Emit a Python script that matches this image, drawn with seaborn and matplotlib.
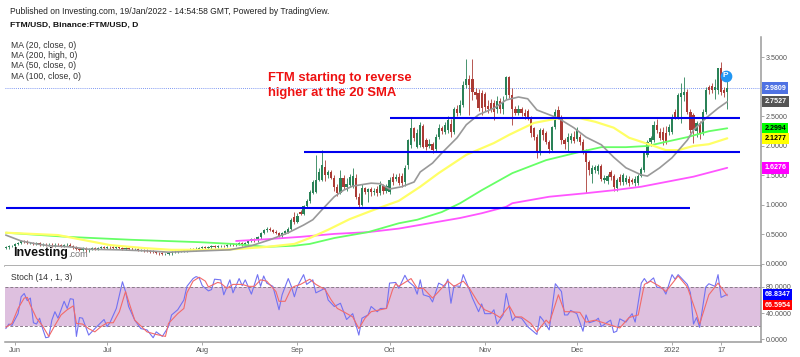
import numpy as np
import seaborn as sns
import matplotlib.pyplot as plt

# daily candles, one entry per day from 29 May 2021 to 19 Jan 2022
opens = [
    .27,.28,.30,.31,.34,.36,.39,.38,.36,.36, .34,.35,.33,.33,.32,.33,.31,.33,.32,.30,
    .32,.33,.31,.28,.25,.24,.26,.23,.25,.27, .26,.27,.28,.27,.29,.28,.27,.28,.27,.26,
    .27,.26,.25,.25,.24,.24,.23,.22,.21,.20, .19,.18,.17,.17,.18,.20,.21,.22,.22,.23,
    .24,.25,.24,.26,.27,.28,.27,.28,.30,.29, .31,.31,.30,.32,.33,.32,.34,.35,.33,.36,
    .39,.42,.40,.45,.52,.57,.60,.58,.55,.52,
    .47,.53,.55,.59,.80,.71,.88,.85,.98,1.07,
    1.20,1.22,1.42,1.42,1.64,1.50,1.56,1.46,1.31,1.20,
    1.46,1.31,1.34,1.31,1.46,1.14,1.00,1.29,1.22,1.27,
    1.22,1.27,1.20,1.32,1.24,1.22,1.47,1.44,1.47,1.49,
    1.39,1.68,2.02,2.31,1.98,2.02,2.34,2.10,2.00,2.03,
    1.95,2.15,2.31,2.24,2.27,2.38,2.24,2.63,2.56,2.70,
    3.03,3.14,3.14,2.92,2.90,2.90,2.88,2.68,2.72,2.72,
    2.62,2.76,2.62,2.86,3.17,2.86,2.63,2.56,2.62,2.56,
    2.59,2.47,2.31,2.15,1.88,2.27,2.22,2.07,1.93,2.32,
    2.61,2.47,2.10,2.07,2.10,2.15,2.12,2.15,2.07,1.90,
    1.73,1.53,1.59,1.58,1.66,1.42,1.41,1.56,1.49,1.29,
    1.47,1.39,1.39,1.44,1.42,1.37,1.37,1.49,1.59,1.85,
    2.07,2.10,2.36,2.24,2.24,2.22,2.24,2.24,2.58,2.49,
    2.83,2.86,2.92,2.58,2.53,2.25,2.39,2.22,2.58,3.00,
    3.02,2.95,2.95,3.32,2.95,2.92,
]
highs = [
    .30,.32,.33,.36,.38,.41,.41,.40,.38,.38, .37,.37,.35,.35,.35,.35,.35,.35,.34,.34,
    .35,.35,.33,.30,.27,.28,.28,.27,.29,.29, .29,.30,.30,.31,.31,.30,.30,.30,.29,.29,
    .29,.28,.27,.27,.26,.26,.25,.24,.23,.22, .21,.20,.19,.20,.22,.23,.24,.24,.25,.26,
    .27,.27,.28,.29,.30,.30,.30,.32,.32,.33, .33,.33,.34,.35,.35,.36,.37,.37,.38,.41,
    .44,.44,.47,.55,.60,.63,.62,.60,.57,.54,
    .55,.58,.62,.78,.88,.86,.92,1.00,1.10,1.26,
    1.42,1.85,1.62,1.93,1.77,1.60,1.60,1.50,1.36,1.60,
    1.50,1.45,1.52,1.62,1.53,1.20,1.35,1.31,1.29,1.30,
    1.29,1.32,1.40,1.36,1.36,1.48,1.54,1.52,1.54,1.55,
    1.68,2.12,2.47,2.32,2.28,2.40,2.37,2.14,2.12,2.06,
    2.20,2.37,2.34,2.40,2.50,2.46,2.66,2.70,2.78,3.10,
    3.48,3.20,3.48,2.98,2.96,2.95,2.92,2.78,2.80,2.78,
    2.85,2.82,2.85,3.18,3.18,2.98,2.68,2.70,2.66,2.62,
    2.62,2.50,2.33,2.20,2.30,2.30,2.26,2.10,2.34,2.62,
    2.68,2.52,2.14,2.22,2.22,2.25,2.32,2.20,2.12,1.95,
    1.77,1.68,1.68,1.70,1.70,1.50,1.52,1.60,1.53,1.46,
    1.52,1.54,1.50,1.49,1.46,1.49,1.53,1.64,1.92,2.10,
    2.17,2.42,2.46,2.30,2.32,2.34,2.38,2.55,2.62,2.90,
    3.07,3.17,2.97,2.62,2.56,2.42,2.42,2.62,3.00,3.03,
    3.06,3.14,3.33,3.43,3.00,3.15,
]
lows = [
    .25,.26,.28,.29,.32,.34,.36,.34,.34,.32, .32,.31,.31,.30,.30,.29,.29,.30,.28,.28,
    .30,.29,.26,.23,.22,.22,.21,.21,.23,.24, .24,.25,.25,.25,.26,.25,.25,.25,.24,.24,
    .24,.23,.23,.22,.22,.21,.20,.19,.18,.17, .16,.15,.15,.15,.16,.18,.19,.20,.20,.21,
    .22,.22,.22,.24,.25,.25,.25,.26,.27,.27, .29,.28,.28,.30,.30,.30,.32,.31,.31,.34,
    .37,.38,.38,.43,.50,.55,.56,.53,.50,.46,
    .44,.50,.52,.57,.68,.69,.83,.83,.95,1.04,
    1.18,1.20,1.40,1.40,1.41,1.46,1.44,1.24,1.15,1.18,
    1.27,1.23,1.30,1.28,1.10,.97,.98,1.18,1.05,1.15,
    1.17,1.15,1.17,1.18,1.20,1.18,1.34,1.40,1.34,1.30,
    1.33,1.61,1.97,2.08,1.96,1.98,1.96,1.94,1.96,1.88,
    1.92,2.12,2.20,2.20,2.22,2.16,2.20,2.50,2.52,2.66,
    2.99,2.52,2.78,2.80,2.60,2.52,2.60,2.56,2.58,2.44,
    2.56,2.56,2.55,2.80,2.82,2.36,2.52,2.52,2.50,2.46,
    2.44,2.15,2.10,1.80,1.85,2.10,2.03,1.88,1.90,2.28,
    2.45,2.03,1.95,1.90,2.05,2.05,2.08,2.02,1.86,1.20,
    1.50,1.37,1.55,1.53,1.40,1.38,1.36,1.43,1.24,1.24,
    1.34,1.34,1.36,1.33,1.35,1.33,1.34,1.47,1.56,1.82,
    2.00,2.06,2.22,2.10,2.02,2.04,2.18,2.20,2.46,2.45,
    2.39,2.76,2.55,2.22,2.05,2.15,2.12,2.18,2.54,2.88,
    2.90,2.80,2.88,2.87,2.83,2.63,
]
closes = [
    .28,.30,.31,.34,.36,.39,.38,.36,.36,.34, .35,.33,.33,.32,.33,.31,.33,.32,.30,.32,
    .33,.31,.28,.25,.24,.26,.23,.25,.27,.26, .27,.28,.27,.29,.28,.27,.28,.27,.26,.27,
    .26,.25,.25,.24,.24,.23,.22,.21,.20,.19, .18,.17,.17,.18,.20,.21,.22,.22,.23,.24,
    .25,.24,.26,.27,.28,.27,.28,.30,.29,.31, .31,.30,.32,.33,.32,.34,.35,.33,.36,.39,
    .42,.40,.45,.52,.57,.60,.58,.55,.52,.48,
    .53,.56,.60,.75,.71,.81,.85,.98,1.07,1.22,
    1.39,1.42,1.56,1.68,1.51,1.56,1.46,1.31,1.20,1.46,
    1.31,1.36,1.47,1.49,1.14,1.00,1.29,1.22,1.27,1.22,
    1.24,1.20,1.34,1.24,1.32,1.42,1.39,1.47,1.37,1.37,
    1.63,2.10,2.31,2.14,2.22,2.36,1.98,1.98,2.03,1.93,
    2.15,2.31,2.25,2.36,2.44,2.24,2.63,2.56,2.70,3.03,
    3.14,3.03,2.92,2.86,2.64,2.64,2.66,2.62,2.62,2.58,
    2.76,2.62,2.74,3.17,2.86,2.63,2.56,2.62,2.56,2.50,
    2.47,2.22,2.15,1.88,2.27,2.19,2.07,1.95,2.32,2.58,
    2.49,2.10,2.03,2.15,2.17,2.09,2.29,2.07,1.90,1.73,
    1.59,1.63,1.64,1.66,1.44,1.46,1.49,1.47,1.31,1.42,
    1.39,1.51,1.46,1.37,1.39,1.44,1.49,1.61,1.88,2.07,
    2.14,2.36,2.27,2.14,2.10,2.07,2.32,2.49,2.49,2.86,
    2.90,2.92,2.58,2.27,2.27,2.39,2.22,2.58,2.95,2.95,
    2.95,3.00,3.32,2.92,2.90,2.98,
]

# moving averages, read at (candle number, price)
ma20_day = [0,5,10,14,21,27,37,47,53,63,73,80,86,92,97,100,103,107,110,113,119,122,125,129,133,135,
            139,142,147,150,154,159,163,167,170,173,180,185,189,194,198,202,207,209,213,217,222,224,228,232,235]
ma20_val = [.49,.39,.34,.31,.29,.25,.24,.22,.20,.22,.24,.31,.41,.53,.66,.75,.92,1.14,1.25,1.32,1.37,1.36,1.27,1.31,1.39,1.56,
            1.71,1.88,2.14,2.36,2.53,2.64,2.78,2.83,2.80,2.61,2.47,2.31,2.15,2.02,1.81,1.63,1.51,1.49,1.63,1.80,2.10,2.27,2.47,2.64,2.75]
ma100_day = [0,17,25,34,45,54,63,74,85,94,99,105,112,120,128,135,141,150,159,164,172,180,187,192,198,203,210,215,219,224,229,235]
ma100_val = [.53,.49,.41,.32,.27,.24,.24,.25,.29,.34,.44,.58,.76,.92,1.07,1.31,1.54,1.85,2.05,2.19,2.39,2.47,2.47,2.41,2.31,2.14,2.02,1.93,1.93,2.00,2.03,2.13]
ma50_day = [0,20,41,63,74,85,94,99,107,118,128,134,142,148,155,165,176,187,194,202,209,215,222,229,235]
ma50_val = [.53,.46,.41,.37,.34,.29,.31,.34,.44,.54,.69,.75,.88,1.03,1.25,1.54,1.76,1.90,1.98,1.98,2.00,2.07,2.15,2.25,2.30]
ma200_day = [75,85,96,107,118,128,138,148,155,163,165,177,189,198,207,215,224,235]
ma200_val = [.39,.42,.46,.51,.54,.60,.69,.78,.86,.97,1.03,1.14,1.20,1.25,1.31,1.39,1.48,1.63]

# support and resistance levels: price, first candle, last candle
level_price = [2.47, 1.89, .95]
level_start = [125, 97, 0]
level_end = [239, 239, 223]

# stochastic
k_day = [0,1,2,4,5,6,7,8,9,10,11,12,13,14,15,16,17,19,20,21,22,23,24,25,27,29,32,33,34,36,38,39,40,42,44,46,48,49,51,53,54,56,58,59,
         61,62,63,64,66,67,68,70,71,73,74,76,77,78,80,82,83,84,85,87,88,89,90,92,93,94,95,97,98,100,101,104,105,107,109,111,113,115,116,118,119,121,122,124,125,127,
         128,130,131,133,134,135,136,138,139,141,143,144,145,146,148,149,151,152,154,155,156,158,159,160,162,163,165,166,168,170,173,174,175,177,179,181,182,183,184,186,188,189,190,
         192,193,194,196,197,198,199,200,202,204,205,207,208,209,211,212,214,215,217,218,219,222,223,224,225,226,228,229,231,232,233,235]
k_val = [16,23,21,39,65,70,59,63,25,23,32,16,2,3,29,42,32,58,47,62,61,4,33,32,6,16,30,19,26,47,88,73,50,29,16,14,2,11,4,19,37,45,60,81,
         93,96,94,82,74,76,92,91,68,91,71,93,82,91,69,99,81,97,86,81,63,45,68,93,81,65,81,99,84,91,71,78,60,50,55,30,39,6,32,37,50,42,47,47,86,87,
         78,98,89,81,69,91,68,65,57,86,81,92,55,82,81,99,76,63,42,54,39,39,45,23,37,70,28,34,32,19,7,35,29,14,85,73,37,37,44,39,12,37,25,
         28,32,19,26,29,10,12,31,26,39,26,86,93,86,94,80,78,69,99,92,99,84,71,23,33,18,80,85,81,99,64,68.8]
d_day = [0,2,4,6,7,8,10,12,14,16,18,20,22,23,25,27,29,31,33,35,37,39,40,42,44,46,49,52,53,56,58,59,61,63,65,66,69,70,72,74,77,79,81,83,85,88,89,91,93,94,96,99,101,104,106,108,110,113,115,117,119,122,124,126,127,
         128,132,134,136,139,141,144,146,149,151,154,156,159,161,164,166,168,171,173,176,177,180,182,184,187,189,192,196,200,203,206,208,210,213,215,219,222,225,226,229,232,235]
d_val = [18,24,47,63,64,52,32,20,4,21,37,45,51,24,23,16,11,19,25,25,42,73,58,29,20,11,7,4,24,39,47,71,89,95,89,80,87,86,78,84,84,81,81,91,89,73,58,58,78,81,84,92,84,76,60,47,42,34,16,32,42,45,47,76,85,
         81,93,78,78,63,73,89,81,89,78,55,45,39,33,51,34,34,24,11,29,24,68,42,42,41,26,29,23,17,33,37,84,89,81,73,97,80,39,23,68,86,66.6]

# last values shown on the right axis
price_tags = [2.9809, 2.7527, 2.2994, 2.1277, 1.6276]
tag_back = ['#4f72e3', '#555555', '#00ff00', '#ffff00', '#ff00ff']
tag_text = ['white', 'white', 'black', 'black', 'white']
stoch_tags = [68.8347, 66.5954]
stoch_back = ['#0000ff', '#ff0000']
stoch_shift = [0, -6.8]

# 3.0000 sits behind the current price tag, so it has no label
price_ticks = [0, .5, 1, 1.5, 2, 2.5, 3, 3.5]
price_labels = ['0.0000', '0.5000', '1.0000', '1.5000', '2.0000', '2.5000', '', '3.5000']
stoch_ticks = [0, 40, 80]
month_days = [3, 33, 64, 95, 125, 156, 186, 217, 233]
month_names = ['Jun', 'Jul', 'Aug', 'Sep', 'Oct', 'Nov', 'Dec', '2022', '17']
ma_names = ['MA (20, close, 0)', 'MA (200, high, 0)', 'MA (50, close, 0)', 'MA (100, close, 0)']

sns.set_theme(style='white')
plt.rcParams['font.family'] = ['Liberation Sans', 'DejaVu Sans']

W, H = 800, 357
fig = plt.figure(figsize=(W / 100, H / 100), dpi=100)
ax = fig.add_axes([5 / W, 1 - 266 / H, 756 / W, 229 / H])
ax2 = fig.add_axes([5 / W, 1 - 342 / H, 756 / W, 76 / H], sharex=ax)

days = np.arange(len(closes))
o = np.array(opens)
c = np.array(closes)
up = c >= o
green, red = '#2a8257', '#ab3b35'
colors = [green if u else red for u in up]
ax.vlines(days, lows, highs, colors=colors, lw=.6, zorder=2)
ax.bar(days, np.abs(c - o), bottom=np.minimum(o, c), width=.72, color=colors, lw=0, zorder=3)

sns.lineplot(x=ma200_day, y=ma200_val, ax=ax, color='#ff55ff', lw=1.3, zorder=4)
sns.lineplot(x=ma50_day, y=ma50_val, ax=ax, color='#66ff66', lw=1.3, zorder=4)
sns.lineplot(x=ma100_day, y=ma100_val, ax=ax, color='#ffff66', lw=1.6, zorder=4)
sns.lineplot(x=ma20_day, y=ma20_val, ax=ax, color='#999999', lw=1.2, zorder=5)
ax.hlines(level_price, level_start, level_end, colors='#0000ee', lw=1.5, zorder=6)
ax.axhline(price_tags[0], color='#5577ee', lw=.6, ls=(0, (1, 1.5)), zorder=1)
ax.scatter([234.5], [3.19], s=55, color='#2196f3', zorder=7)
ax.text(234.5, 3.19, 'P', color='white', fontsize=6, fontweight='bold', ha='center', va='center', zorder=8)

fig.text(268 / W, 1 - 78 / H, 'FTM starting to reverse', color='#ee1111', fontsize=9.4, fontweight='bold', va='center')
fig.text(268 / W, 1 - 93 / H, 'higher at the 20 SMA', color='#ee1111', fontsize=9.4, fontweight='bold', va='center')

ax2.axhspan(20, 80, color='#dec0df', lw=0, zorder=1)
ax2.axhline(80, color='#8a7a8a', lw=.7, ls=(0, (3, 2)), zorder=2)
ax2.axhline(20, color='#8a7a8a', lw=.7, ls=(0, (3, 2)), zorder=2)
sns.lineplot(x=k_day, y=k_val, ax=ax2, color='#7272f2', lw=.8, zorder=3)
sns.lineplot(x=d_day, y=d_val, ax=ax2, color='#f26a6a', lw=.8, zorder=4)

ax.set_xlim(-.26, 245.99)
ax.set_ylim(-.034, 3.847)
ax2.set_ylim(-4.6, 112.3)
for a in (ax, ax2):
    a.set_xlabel('')
    a.set_ylabel('')
    a.yaxis.tick_right()
    for s in a.spines.values():
        s.set_visible(False)
    a.spines['right'].set_visible(True)
    a.spines['right'].set_color('#9a9a9a')
    a.spines['right'].set_linewidth(1.1)
    a.spines['bottom'].set_visible(True)
    a.spines['bottom'].set_color('#9a9a9a')
    a.spines['bottom'].set_linewidth(1.1)
ax.set_yticks(price_ticks, price_labels)
ax2.set_yticks(stoch_ticks, [f'{t:.4f}' for t in stoch_ticks])
ax.tick_params(axis='x', bottom=False, labelbottom=False)
ax.tick_params(axis='y', right=True, length=2, width=.6, color='#9a9a9a', pad=1.5, labelsize=5.1, labelcolor='#555555')
ax2.tick_params(axis='y', right=True, length=2, width=.6, color='#9a9a9a', pad=1.5, labelsize=5.1, labelcolor='#555555')
ax2.set_xticks(month_days, month_names)
ax2.tick_params(axis='x', bottom=True, length=2, width=.6, color='#9a9a9a', pad=1.5, labelsize=5.3, labelcolor='#555555')

# value tags on the price scale
for val, back, txt in zip(price_tags, tag_back, tag_text):
    ax.annotate(f'{val:.4f}', (1, val), xycoords=('axes fraction', 'data'), xytext=(2.5, 0), textcoords='offset points',
                fontsize=5.1, fontweight='bold', color=txt, va='center', ha='left', zorder=10,
                bbox=dict(boxstyle='square,pad=0.3', fc=back, ec='none'), annotation_clip=False)
for val, back, shift in zip(stoch_tags, stoch_back, stoch_shift):
    ax2.annotate(f'{val:.4f}', (1, val), xycoords=('axes fraction', 'data'), xytext=(2.5, shift), textcoords='offset points',
                 fontsize=5.1, fontweight='bold', color='white', va='center', ha='left', zorder=10,
                 bbox=dict(boxstyle='square,pad=0.25', fc=back, ec='none'), annotation_clip=False)

fig.text(10 / W, 1 - 11 / H, 'Published on Investing.com, 19/Jan/2022 - 14:54:58 GMT, Powered by TradingView.',
         fontsize=6.15, color='#222222', va='center')
fig.text(10 / W, 1 - 25 / H, 'FTM/USD, Binance:FTM/USD, D', fontsize=6.1, fontweight='bold', color='#111111', va='center')
for name, py in zip(ma_names, [45.5, 56, 66, 76.5]):
    fig.text(11 / W, 1 - py / H, name, fontsize=6.2, color='#333333', va='center')
fig.text(11 / W, 1 - 277 / H, 'Stoch (14 , 1, 3)', fontsize=6.2, color='#333333', va='center')
fig.text(13 / W, 1 - 253 / H, 'Investing', fontsize=9, fontweight='bold', color='#111111', va='center', zorder=12)
fig.text(68 / W, 1 - 254.5 / H, '.com', fontsize=6.6, color='#777777', va='center', zorder=12)

fig.savefig('out.png', dpi=100)
